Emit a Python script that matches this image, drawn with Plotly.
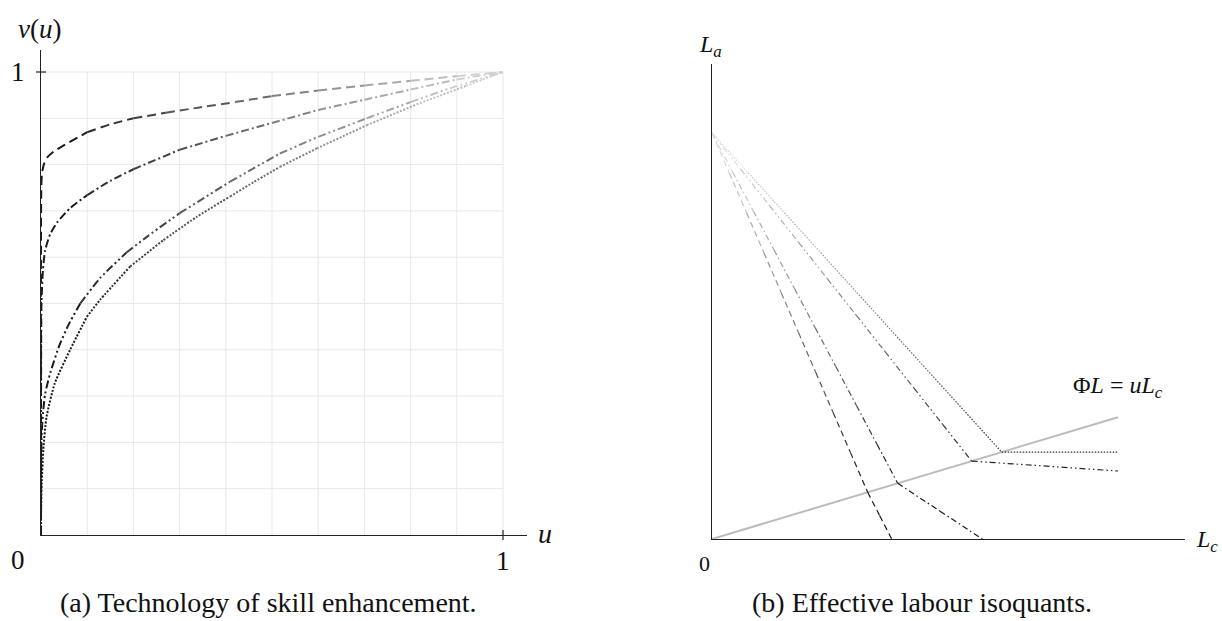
import math
import plotly.graph_objects as go

W, H = 1222, 621

# ---------------- Panel (a): technology of skill enhancement, v(u) ----------------
u_dashed = [0, 0.0005, 0.002, 0.006, 0.013, 0.027, 0.05, 0.1, 0.15, 0.2, 0.27, 0.34, 0.42, 0.5, 0.6, 0.7, 0.8, 0.9, 1.0]
v_dashed = [0, 0.74, 0.78, 0.80, 0.815, 0.828, 0.842, 0.870, 0.887, 0.90, 0.912, 0.923, 0.935, 0.948, 0.960, 0.971, 0.981, 0.991, 1.0]

u_dashdot = [0, 0.0003, 0.001, 0.004, 0.009, 0.02, 0.035, 0.063, 0.1, 0.15, 0.2, 0.3, 0.4, 0.5, 0.6, 0.7, 0.8, 0.9, 1.0]
v_dashdot = [0, 0.40, 0.50, 0.57, 0.615, 0.65, 0.675, 0.706, 0.734, 0.765, 0.79, 0.832, 0.862, 0.89, 0.918, 0.94, 0.962, 0.984, 1.0]

u_dashdotdot = [0, 0.0003, 0.0015, 0.005, 0.009, 0.02, 0.04, 0.06, 0.085, 0.128, 0.185, 0.229, 0.3, 0.409, 0.517, 0.6, 0.705, 0.8, 0.885, 1.0]
v_dashdotdot = [0, 0.14, 0.22, 0.27, 0.305, 0.35, 0.41, 0.455, 0.50, 0.555, 0.61, 0.644, 0.695, 0.763, 0.824, 0.86, 0.90, 0.935, 0.965, 1.0]

u_dotted = [0, 0.0003, 0.0015, 0.005, 0.012, 0.03, 0.063, 0.099, 0.128, 0.193, 0.265, 0.337, 0.409, 0.46, 0.517, 0.597, 0.705, 0.813, 0.92, 1.0]
v_dotted = [0, 0.06, 0.11, 0.184, 0.255, 0.328, 0.40, 0.471, 0.508, 0.58, 0.637, 0.687, 0.731, 0.762, 0.795, 0.835, 0.885, 0.93, 0.97, 1.0]

grid_values = [0.1, 0.2, 0.3, 0.4, 0.5, 0.6, 0.7, 0.8, 0.9, 1.0]

# ---------------- Panel (b): effective labour isoquants ----------------
iso_dashed_x = [0, 1.557, 1.797]
iso_dashed_y = [4.06, 0.467, 0]
iso_dashdot_x = [0, 1.857, 2.703]
iso_dashdot_y = [4.06, 0.557, 0]
iso_dashdotdot_x = [0, 2.597, 4.06]
iso_dashdotdot_y = [4.06, 0.779, 0.68]
iso_dotted_x = [0, 2.897, 4.06]
iso_dotted_y = [4.06, 0.869, 0.869]
ray_x = [0, 4.06]
ray_y = [0, 1.218]

FONT = "Liberation Serif"


def gray(g):
    g = max(0.0, min(1.0, g))
    c = int(round(255 * g))
    return f"rgb({c},{c},{c})"


def color_left(u):
    return gray(0.06 + 0.8 * u)


def color_right(y):
    t = (y - 0.5) / 3.56
    t = max(0.0, min(1.0, t))
    return gray(0.1 + 0.8 * t)


fig = go.Figure()


def add_left_curve(xs, ys, dash, width=2.0, band=0.1):
    n = len(xs)
    groups = []
    start = 0
    cur = None
    for i in range(n - 1):
        mid = 0.5 * (xs[i] + xs[i + 1])
        b = min(int(mid / band), int(round(1 / band)) - 1)
        if cur is None:
            cur = b
        elif b != cur:
            groups.append((start, i, cur))
            start = i
            cur = b
    groups.append((start, n - 1, cur))
    for s, e, b in groups:
        uc = (b + 0.5) * band
        fig.add_trace(go.Scatter(
            x=xs[s:e + 1], y=ys[s:e + 1], mode="lines",
            line=dict(color=color_left(uc), width=width, dash=dash, shape="spline", smoothing=0.6),
            xaxis="x", yaxis="y", hoverinfo="skip", showlegend=False))


def add_right_line(xs, ys, dash, width=1.2, step=0.4):
    for i in range(len(xs) - 1):
        x0, y0, x1, y1 = xs[i], ys[i], xs[i + 1], ys[i + 1]
        k = max(1, int(math.ceil(abs(y1 - y0) / step)))
        for j in range(k):
            a0, a1 = j / k, (j + 1) / k
            px0, py0 = x0 + (x1 - x0) * a0, y0 + (y1 - y0) * a0
            px1, py1 = x0 + (x1 - x0) * a1, y0 + (y1 - y0) * a1
            fig.add_trace(go.Scatter(
                x=[px0, px1], y=[py0, py1], mode="lines",
                line=dict(color=color_right(0.5 * (py0 + py1)), width=width, dash=dash),
                xaxis="x2", yaxis="y2", hoverinfo="skip", showlegend=False))


add_left_curve(u_dashed, v_dashed, "9px,5px")
add_left_curve(u_dashdot, v_dashdot, "8px,3px,2px,3px")
add_left_curve(u_dashdotdot, v_dashdotdot, "8px,3px,2px,3px,2px,3px")
add_left_curve(u_dotted, v_dotted, "2px,1.6px")

fig.add_trace(go.Scatter(x=ray_x, y=ray_y, mode="lines",
                         line=dict(color="#bcbcbc", width=2),
                         xaxis="x2", yaxis="y2", hoverinfo="skip", showlegend=False))
add_right_line(iso_dashed_x, iso_dashed_y, "6px,4px")
add_right_line(iso_dashdot_x, iso_dashdot_y, "6px,3px,1.5px,3px")
add_right_line(iso_dashdotdot_x, iso_dashdotdot_y, "6px,3px,1.5px,3px,1.5px,3px")
add_right_line(iso_dotted_x, iso_dotted_y, "1.5px,1.5px")

shapes = []
for g in grid_values:
    shapes.append(dict(type="line", xref="x", yref="y", x0=g, x1=g, y0=0, y1=1,
                       line=dict(color="#e8e8e8", width=1), layer="below"))
    shapes.append(dict(type="line", xref="x", yref="y", x0=0, x1=1, y0=g, y1=g,
                       line=dict(color="#e8e8e8", width=1), layer="below"))


def P(px, py):
    return px / W, 1 - py / H


tx, ty0 = P(503, 530)
_, ty1 = P(503, 540)
shapes.append(dict(type="line", xref="paper", yref="paper", x0=tx, x1=tx, y0=ty0, y1=ty1,
                   line=dict(color="#222", width=1.2)))
sx0, sy = P(36, 72)
sx1, _ = P(46, 72)
shapes.append(dict(type="line", xref="paper", yref="paper", x0=sx0, x1=sx1, y0=sy, y1=sy,
                   line=dict(color="#222", width=1.2)))

annotations = []


def ann(text, px, py, size, xanchor="center"):
    x, y = P(px, py)
    annotations.append(dict(text=text, x=x, y=y, xref="paper", yref="paper",
                            showarrow=False, xanchor=xanchor, yanchor="middle",
                            font=dict(family=FONT, size=size, color="#111")))


ann("<i>v</i>(<i>u</i>)", 39, 29, 27)
ann("1", 18, 72, 27)
ann("0", 18, 560, 27)
ann("1", 503, 561, 27)
ann("<i>u</i>", 545, 533, 28)
ann("(a) Technology of skill enhancement.", 268, 602, 28)

ann("<i>L</i><sub><i>a</i></sub>", 710, 46, 24)
ann("<i>L</i><sub><i>c</i></sub>", 1207, 541, 24)
ann("0", 705, 563, 22)
ann("Φ<i>L</i> = <i>uL</i><sub><i>c</i></sub>", 1118, 387, 24)
ann("(b) Effective labour isoquants.", 922, 602, 28)

axis_common = dict(showgrid=False, zeroline=False, showticklabels=False, ticks="",
                   showline=True, linecolor="#222", linewidth=1.3)

fig.update_layout(
    width=W, height=H,
    margin=dict(l=0, r=0, t=0, b=0),
    paper_bgcolor="white", plot_bgcolor="rgba(0,0,0,0)",
    xaxis=dict(domain=[41 / W, 527 / W], range=[0, (527 - 41) / 462], anchor="y", **axis_common),
    yaxis=dict(domain=[1 - 535 / H, 1 - 50 / H], range=[0, (535 - 50) / 463], anchor="x", **axis_common),
    xaxis2=dict(domain=[712 / W, 1185 / W], range=[0, 4.73], anchor="y2", **axis_common),
    yaxis2=dict(domain=[1 - 539 / H, 1 - 64 / H], range=[0, 4.75], anchor="x2", **axis_common),
    shapes=shapes,
    annotations=annotations,
)

fig.write_html("out.html", config={"displayModeBar": False},
               post_script="document.body.style.margin='0px';document.body.style.overflow='hidden';")
